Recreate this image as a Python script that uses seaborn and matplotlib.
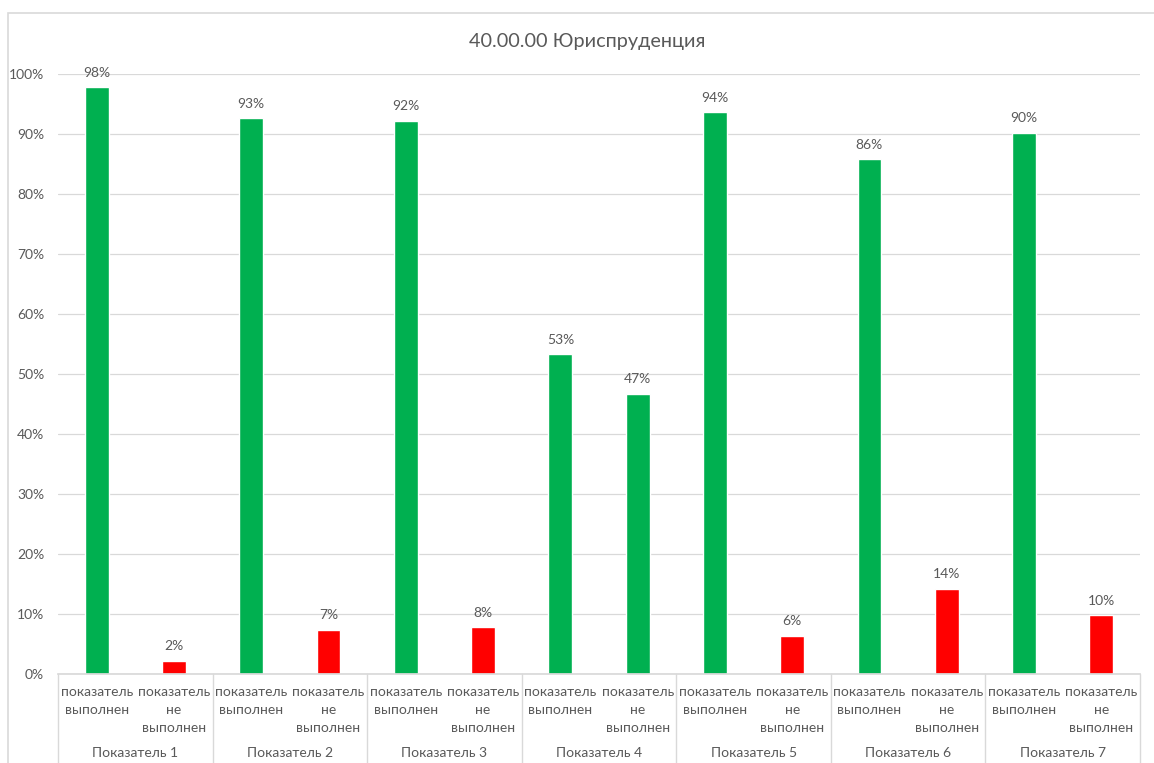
import pandas as pd
import matplotlib
matplotlib.use("Agg")
import matplotlib.pyplot as plt
import matplotlib.transforms as mtransforms
from matplotlib.patches import Rectangle
import seaborn as sns

groups = ["Показатель 1", "Показатель 2", "Показатель 3", "Показатель 4",
          "Показатель 5", "Показатель 6", "Показатель 7"]
done = [97.8, 92.6, 92.2, 53.3, 93.6, 85.8, 90.2]
not_done = [2.2, 7.4, 7.8, 46.7, 6.4, 14.2, 9.8]
sub_labels = ["показатель\nвыполнен", "показатель\nне\nвыполнен"]
GREEN = "#00B050"
RED = "#FF0000"
bar_colors = [GREEN, RED, GREEN, RED, GREEN, RED, GREEN, GREEN,
              GREEN, RED, GREEN, RED, GREEN, RED]

rows = []
for i, g in enumerate(groups):
    rows.append({"slot": f"{i}a", "group": g, "sub": sub_labels[0], "value": done[i]})
    rows.append({"slot": f"{i}b", "group": g, "sub": sub_labels[1], "value": not_done[i]})
df = pd.DataFrame(rows)

sns.set_theme(style="white")
plt.rcParams["font.family"] = ["Lato", "DejaVu Sans"]
TXT = "#595959"
GRID = "#d9d9d9"

fig = plt.figure(figsize=(11.54, 7.63), dpi=100)
ax = fig.add_axes([58 / 1154, 89 / 763, 1082 / 1154, 600 / 763])

# outer chart border (Excel style)
fig.patches.append(Rectangle((8 / 1154, -0.1), 1.2, (763 - 13) / 763 + 0.1,
                             transform=fig.transFigure, fill=False,
                             edgecolor=GRID, lw=1.2))

sns.barplot(data=df, x="slot", y="value", hue="slot", palette=bar_colors,
            dodge=False, width=0.31, legend=False, saturation=1, ax=ax)

for cont in ax.containers:
    ax.bar_label(cont, fmt="{:.0f}%", padding=6, color=TXT, fontsize=10)

ax.set_ylim(0, 100)
ax.set_xlim(-0.5, len(df) - 0.5)
ax.set_yticks(range(0, 101, 10))
ax.set_yticklabels([f"{t}%" for t in range(0, 101, 10)], color=TXT, fontsize=10)
ax.tick_params(axis="y", length=0, pad=10)
ax.yaxis.grid(True, color=GRID, lw=0.9)
ax.set_axisbelow(True)
for s in ["top", "right", "left"]:
    ax.spines[s].set_visible(False)
ax.spines["bottom"].set_color(GRID)
ax.set_xlabel("")
ax.set_ylabel("")

ax.set_xticks(range(len(df)))
ax.set_xticklabels(df["sub"], color=TXT, fontsize=10, va="top", linespacing=1.55)
ax.tick_params(axis="x", length=0, pad=9)

trans = mtransforms.blended_transform_factory(ax.transData, ax.transAxes)
for i, g in enumerate(groups):
    ax.text(2 * i + 0.5, -0.131, g, transform=trans, ha="center", va="center",
            color=TXT, fontsize=10)
for k in range(len(groups) + 1):
    ax.plot([2 * k - 0.5, 2 * k - 0.5], [0, -0.16], transform=trans,
            color=GRID, lw=1, clip_on=False)

fig.text(587 / 1154, 1 - 41 / 763, "40.00.00 Юриспруденция", ha="center",
         va="center", color=TXT, fontsize=14.3)

fig.savefig("out.png", dpi=100)
